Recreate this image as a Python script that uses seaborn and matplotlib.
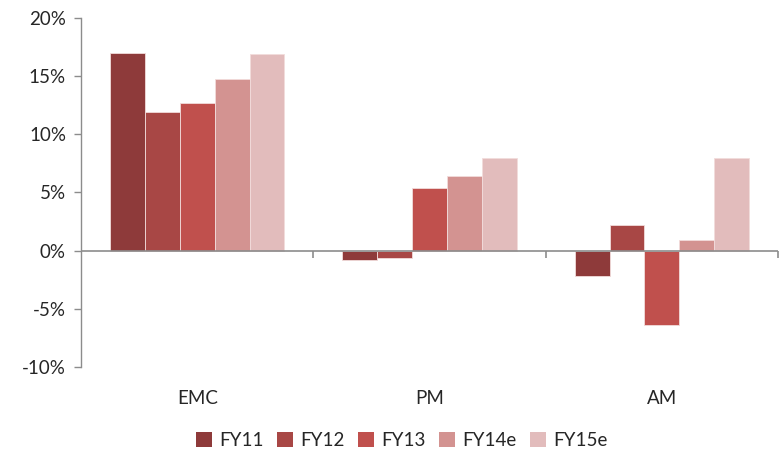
import matplotlib
matplotlib.use("Agg")
import matplotlib.pyplot as plt
import seaborn as sns
import pandas as pd
from matplotlib.ticker import FuncFormatter

categories = ["EMC", "PM", "AM"]
series = ["FY11", "FY12", "FY13", "FY14e", "FY15e"]
fy11 = [17.0, -0.85, -2.2]
fy12 = [11.9, -0.65, 2.2]
fy13 = [12.7, 5.35, -6.4]
fy14e = [14.8, 6.4, 0.95]
fy15e = [16.9, 8.0, 8.0]
colors = ["#8E3A3A", "#A84745", "#C0504D", "#D39391", "#E2BCBC"]
yticks = [-10, -5, 0, 5, 10, 15, 20]

rows = []
for s, vals in zip(series, [fy11, fy12, fy13, fy14e, fy15e]):
    for c, v in zip(categories, vals):
        rows.append({"cat": c, "series": s, "value": v})
df = pd.DataFrame(rows)

sns.set_style("white")
plt.rcParams["font.family"] = ["Lato", "DejaVu Sans"]

fig = plt.figure(figsize=(7.81, 4.54), dpi=100)
ax = fig.add_axes([0.104, 0.192, 0.892, 0.768])
sns.barplot(data=df, x="cat", y="value", hue="series", order=categories,
            hue_order=series, palette=colors, width=0.75, ax=ax,
            edgecolor="#F2DCDB", linewidth=0.6, saturation=1, legend=True)

ax.set_ylim(-10, 20)
ax.set_xlim(-0.5, len(categories) - 0.5)
ax.set_yticks(yticks)
ax.yaxis.set_major_formatter(FuncFormatter(lambda v, p: f"{int(v)}%"))
ax.tick_params(axis="y", direction="out", length=5, color="#8C8C8C", width=1,
               labelsize=13.5, pad=6, left=True)
ax.tick_params(axis="x", length=0, labelsize=13.5, pad=17)
ax.set_xlabel("")
ax.set_ylabel("")
for sp in ["top", "right", "bottom"]:
    ax.spines[sp].set_visible(False)
ax.spines["left"].set_color("#8C8C8C")
ax.spines["left"].set_linewidth(1)
ax.axhline(0, color="#8C8C8C", lw=1.2, zorder=3)
bounds = [i + 0.5 for i in range(len(categories))]
ax.vlines(bounds, -0.6, 0, color="#8C8C8C", lw=1.2, zorder=3, clip_on=False)

leg = ax.legend(loc="center", bbox_to_anchor=(0.46, -0.21), ncol=5,
                frameon=False, fontsize=13.5, handlelength=0.85, handleheight=0.85,
                handletextpad=0.4, columnspacing=0.7)
for h in leg.legend_handles:
    h.set_edgecolor("none")

fig.savefig("out.png", dpi=100)
